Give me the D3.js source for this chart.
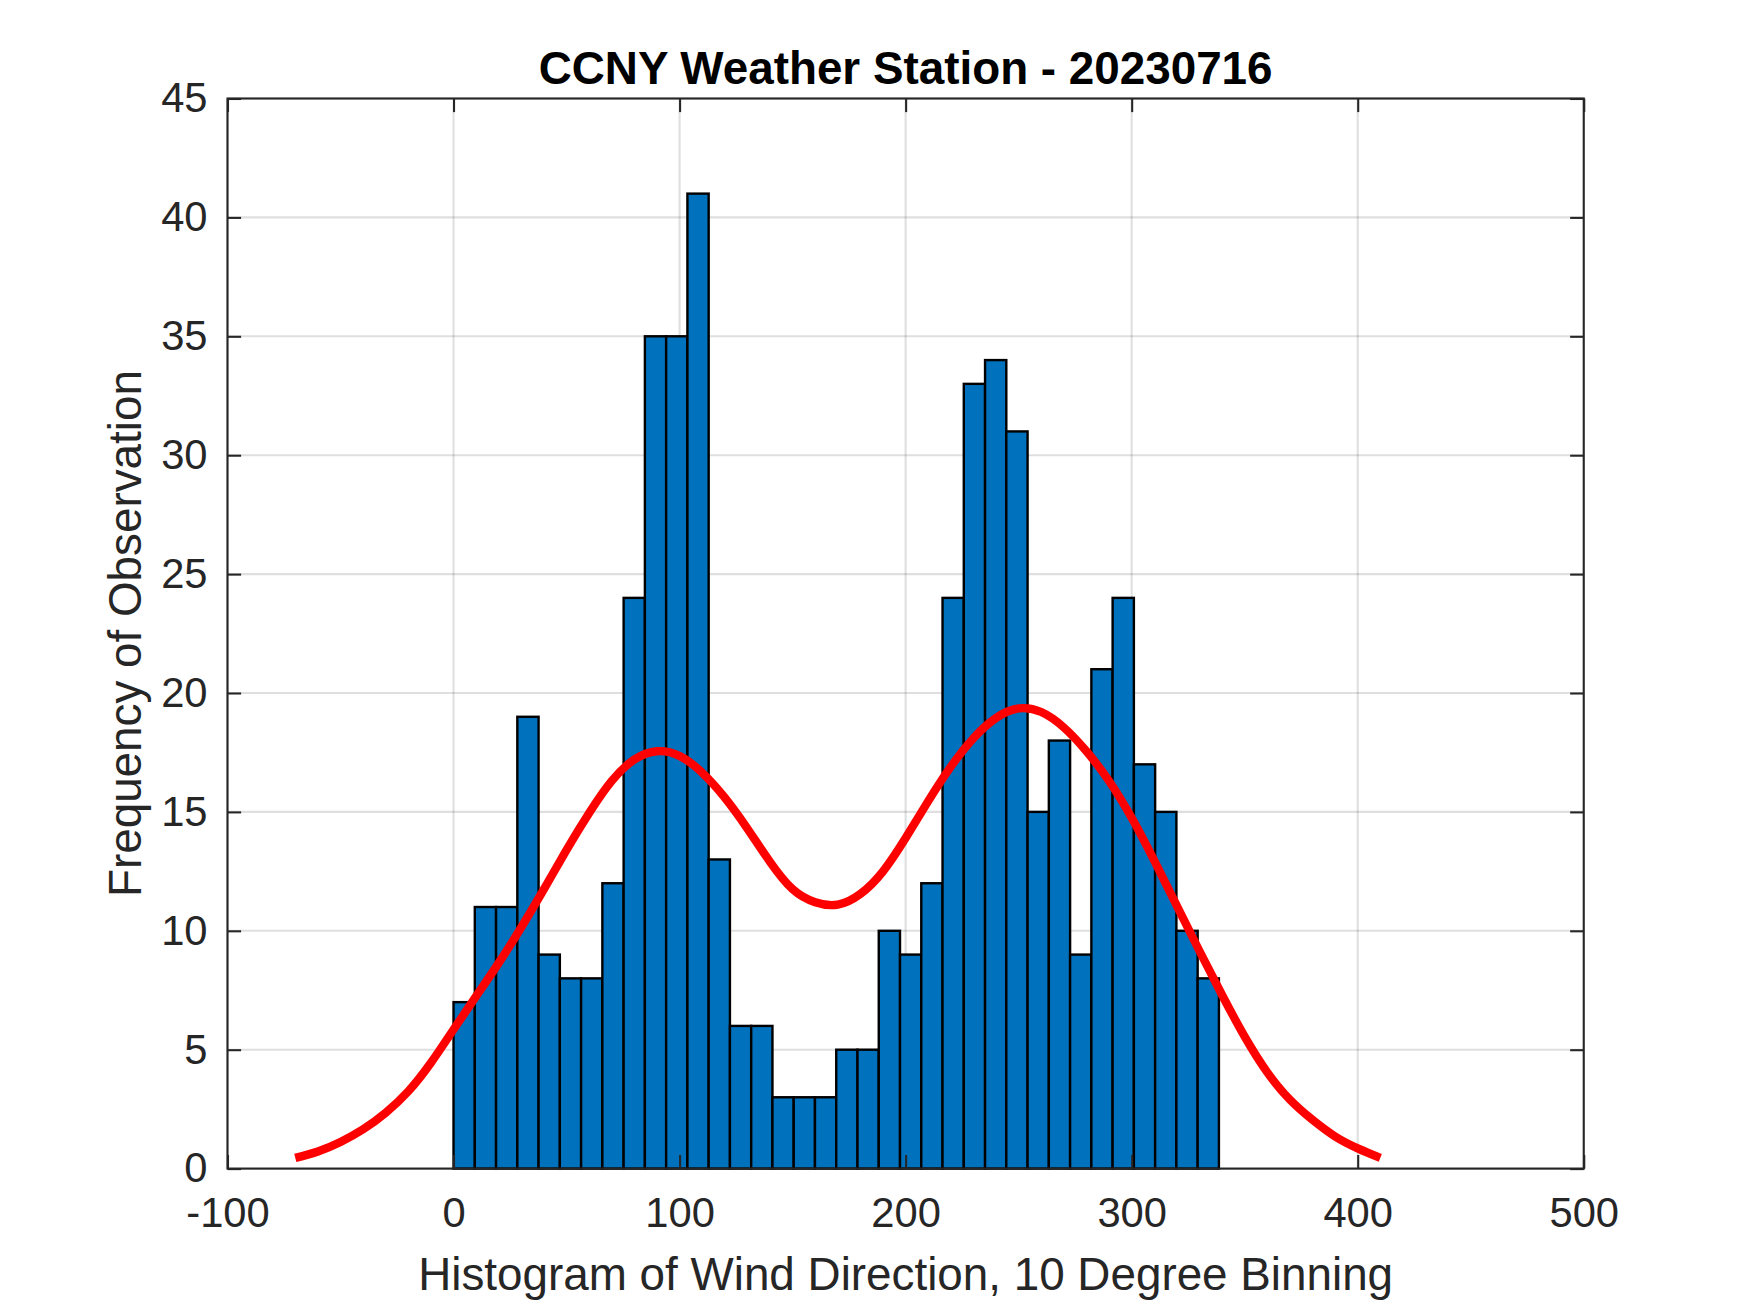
<!DOCTYPE html>
<html>
<head>
<meta charset="utf-8">
<script src="https://cdn.jsdelivr.net/npm/d3@7"></script>
<style>
  html, body { margin: 0; padding: 0; background: #fff; }
  svg { display: block; }
  text { font-family: "Liberation Sans", Arial, Helvetica, sans-serif; }
</style>
</head>
<body>
<div id="chart"></div>
<script>
// histogram counts, 36 bins spanning the observed range 0 .. ~338.6 deg
const counts = [7, 11, 11, 19, 9, 8, 8, 12, 24, 35, 35, 41, 13, 6, 6, 3, 3, 3,
  5, 5, 10, 9, 12, 24, 33, 34, 31, 15, 18, 9, 21, 24, 17, 15, 10, 8];
const binRange = [0, 338.6];

// fitted curve
const curveX = [-70, -60, -50, -40, -30, -20, -10, 0, 10, 20, 30, 40, 50, 60, 70, 80, 90,
  100, 110, 120, 130, 140, 150, 160, 170, 180, 190, 200, 210, 220, 230, 240, 250,
  260, 270, 280, 290, 300, 310, 320, 330, 340, 350, 360, 370, 380, 390, 400, 410];
const curveY = [0.45, 0.72, 1.12, 1.65, 2.35, 3.25, 4.45, 5.85, 7.25, 8.65, 10.15, 11.75,
  13.4, 14.95, 16.3, 17.2, 17.55, 17.35, 16.65, 15.6, 14.3, 12.9, 11.75, 11.2, 11.1,
  11.55, 12.5, 13.9, 15.45, 16.9, 18.1, 18.95, 19.35, 19.2, 18.55, 17.55, 16.3, 14.75,
  12.95, 11.05, 9.15, 7.3, 5.55, 4.05, 2.9, 2.05, 1.35, 0.85, 0.45];

const xTicks = [-100, 0, 100, 200, 300, 400, 500];
const yTicks = [0, 5, 10, 15, 20, 25, 30, 35, 40, 45];

const W = 1750, H = 1313;
const margin = { top: 98.5, right: 166.25, bottom: 144.4, left: 227.5 };
const innerW = W - margin.left - margin.right;
const innerH = H - margin.top - margin.bottom;
const axisColor = '#262626';
const lw = 2.08;
const tickLen = 13.6;

const svg = d3.select('#chart').append('svg')
  .attr('width', W).attr('height', H)
  .attr('viewBox', `0 0 ${W} ${H}`);

const g = svg.append('g').attr('transform', `translate(${margin.left},${margin.top})`);

const x = d3.scaleLinear().domain([-100, 500]).range([0, innerW]);
const y = d3.scaleLinear().domain([0, 45]).range([innerH, 0]);

// grid
const grid = g.append('g').attr('stroke', axisColor).attr('stroke-opacity', 0.15).attr('stroke-width', lw);
grid.selectAll('line.gx').data(xTicks).join('line')
  .attr('x1', (d) => x(d)).attr('x2', (d) => x(d)).attr('y1', 0).attr('y2', innerH);
grid.selectAll('line.gy').data(yTicks).join('line')
  .attr('y1', (d) => y(d)).attr('y2', (d) => y(d)).attr('x1', 0).attr('x2', innerW);

// bars
const binW = (binRange[1] - binRange[0]) / counts.length;
g.append('g').selectAll('rect').data(counts).join('rect')
  .attr('x', (_, i) => x(binRange[0] + i * binW))
  .attr('width', (_, i) => x(binRange[0] + (i + 1) * binW) - x(binRange[0] + i * binW))
  .attr('y', (d) => y(d))
  .attr('height', (d) => y(0) - y(d))
  .attr('fill', '#0072BD')
  .attr('stroke', '#000')
  .attr('stroke-width', 2.4);

// fitted curve
const line = d3.line()
  .x((d) => x(d[0]))
  .y((d) => y(d[1]))
  .curve(d3.curveNatural);
g.append('path')
  .attr('d', line(d3.zip(curveX, curveY)))
  .attr('fill', 'none')
  .attr('stroke', '#ff0000')
  .attr('stroke-width', 8.3);

// axes, ticks inward on all four sides
const fmt = (d) => String(d);
const xAxisB = d3.axisBottom(x).tickValues(xTicks).tickFormat(fmt).tickSizeInner(-tickLen).tickSizeOuter(0).tickPadding(29);
const xAxisT = d3.axisTop(x).tickValues(xTicks).tickSizeInner(-tickLen).tickSizeOuter(0).tickFormat('');
const yAxisL = d3.axisLeft(y).tickValues(yTicks).tickFormat(fmt).tickSizeInner(-tickLen).tickSizeOuter(0).tickPadding(20);
const yAxisR = d3.axisRight(y).tickValues(yTicks).tickSizeInner(-tickLen).tickSizeOuter(0).tickFormat('');

const axB = g.append('g').attr('transform', `translate(0,${innerH})`).call(xAxisB);
const axT = g.append('g').call(xAxisT);
const axL = g.append('g').call(yAxisL);
const axR = g.append('g').attr('transform', `translate(${innerW},0)`).call(yAxisR);
[axB, axT, axL, axR].forEach((ax) => {
  ax.select('.domain').remove();
  ax.selectAll('line').attr('stroke', axisColor).attr('stroke-width', lw);
  ax.selectAll('text').attr('fill', axisColor).attr('font-size', 41.7)
    .attr('font-family', '"Liberation Sans", Arial, Helvetica, sans-serif');
});
axB.selectAll('text').attr('dy', '0.71em');

g.append('rect')
  .attr('width', innerW).attr('height', innerH)
  .attr('fill', 'none').attr('stroke', axisColor).attr('stroke-width', lw);

// labels
svg.append('text')
  .attr('x', margin.left + innerW / 2).attr('y', 83.5)
  .attr('text-anchor', 'middle').attr('font-size', 45.8).attr('font-weight', 'bold')
  .attr('fill', '#000').text('CCNY Weather Station - 20230716');

svg.append('text')
  .attr('x', margin.left + innerW / 2).attr('y', 1290)
  .attr('text-anchor', 'middle').attr('font-size', 45.8)
  .attr('fill', axisColor).text('Histogram of Wind Direction, 10 Degree Binning');

svg.append('text')
  .attr('transform', `translate(141,${margin.top + innerH / 2}) rotate(-90)`)
  .attr('text-anchor', 'middle').attr('font-size', 45.8)
  .attr('fill', axisColor).text('Frequency of Observation');
</script>
</body>
</html>
